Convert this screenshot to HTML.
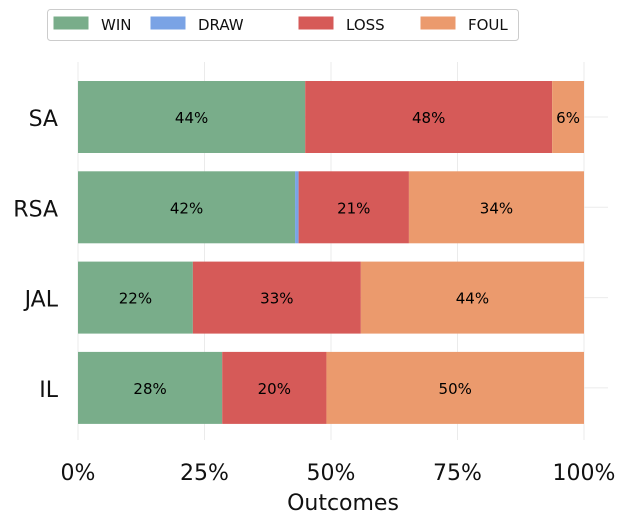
<!DOCTYPE html>
<html><head><meta charset="utf-8"><style>
body{margin:0;background:#fff;font-family:"DejaVu Sans","Liberation Sans",sans-serif;}
</style></head><body>
<svg id="chart" width="628" height="524" xmlns="http://www.w3.org/2000/svg" font-family="DejaVu Sans, Liberation Sans, sans-serif">
<g id="grid"></g>
<g id="bars"></g>
<g id="axes"></g>
<g id="legend">
<rect x="47.5" y="9.5" width="471" height="31" fill="#fff" stroke="#ccc" rx="3"/>
</g>
<text x="343" y="510" font-size="22" text-anchor="middle" fill="#111">Outcomes</text>
</svg>
<script>
const categories = ["SA","RSA","JAL","IL"];
const seriesNames = ["WIN","DRAW","LOSS","FOUL"];
const winVals = [44.9, 42.9, 22.7, 28.5];
const drawVals = [0, 0.7, 0, 0];
const lossVals = [48.8, 21.8, 33.2, 20.6];
const foulVals = [6.3, 34.6, 44.1, 50.9];
const xTicks = [0, 25, 50, 75, 100];
const xTickLabels = ["0%","25%","50%","75%","100%"];
const colors = ["#79ad8a","#7aa3e5","#d65a58","#eb9a6d"];
const NS="http://www.w3.org/2000/svg";
const x0=78,x1=584;
const xs=v=>x0+(x1-x0)*v/100;
const rowY=i=>117+i*90.3;
const barH=72;
function mk(t,a,p){const e=document.createElementNS(NS,t);for(const k in a)e.setAttribute(k,a[k]);p.appendChild(e);return e;}
const grid=document.getElementById('grid'),bars=document.getElementById('bars'),axes=document.getElementById('axes'),leg=document.getElementById('legend');
xTicks.forEach((t,i)=>{
 const l=mk('line',{x1:xs(t),x2:xs(t),y1:62,y2:440,stroke:'#ebebeb','stroke-width':1},grid);
 
 
 const tx=mk('text',{x:xs(t),y:480,'font-size':22,'text-anchor':'middle',fill:'#111'},axes);
 tx.textContent=xTickLabels[i];
 
 
});
const series=[winVals,drawVals,lossVals,foulVals];
categories.forEach((c,i)=>{
 const cy=rowY(i);
 const gl=mk('line',{x1:x0,x2:608,y1:cy,y2:cy,stroke:'#ebebeb','stroke-width':1},grid);
 
 
 const yl=mk('text',{x:58,y:cy+9,'font-size':22,'text-anchor':'end',fill:'#111'},axes);
 yl.textContent=c;
 
 
 let acc=0;
 series.forEach((s,j)=>{
  const v=s[i];
  if(v<=0)return;
  const r=mk('rect',{x:xs(acc),y:cy-barH/2,width:xs(acc+v)-xs(acc),height:barH,fill:colors[j]},bars);
  
  
  if(v>=3){
   const t=mk('text',{x:(xs(acc)+xs(acc+v))/2,y:cy+6,'font-size':15,'text-anchor':'middle',fill:'#000'},bars);
   t.textContent=Math.floor(v)+'%';
   
   
  }
  acc+=v;
 });
});
const legX=[54,151,299,421];
seriesNames.forEach((n,j)=>{
 const r=mk('rect',{x:legX[j],y:17,width:34,height:12,fill:colors[j],stroke:colors[j]},leg);
 
 
 const t=mk('text',{x:legX[j]+47,y:30,'font-size':15,fill:'#111'},leg);
 t.textContent=n;
 
 
});
</script>
</body></html>
